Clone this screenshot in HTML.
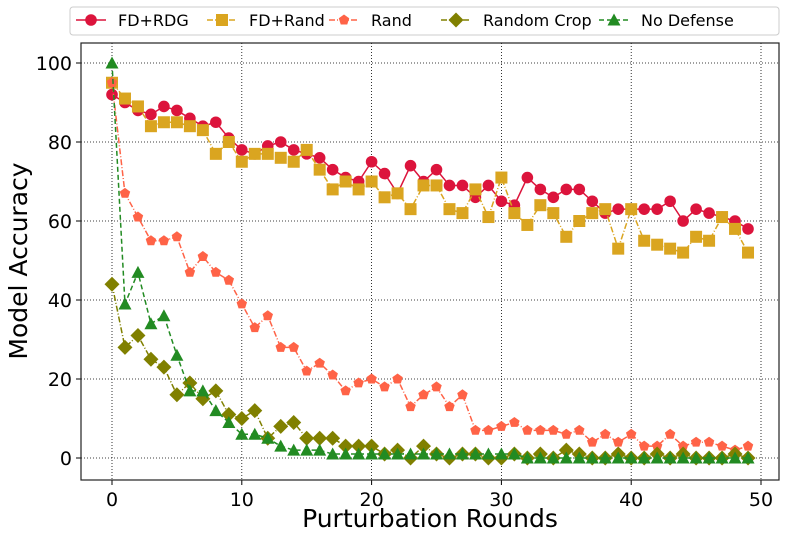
<!DOCTYPE html>
<html><head><meta charset="utf-8"><style>
body{margin:0;background:#fff;font-family:"Liberation Sans","DejaVu Sans",sans-serif}
svg text{font-family:"DejaVu Sans","Liberation Sans",sans-serif}
</style></head><body>
<svg id="chart" width="786" height="539" xmlns="http://www.w3.org/2000/svg">
</svg>
<script>
const rounds = Array.from({length:50},(_, i)=>i);
const fdRdg = [92,90,88,87,89,88,86,84,85,81,78,77,79,80,78,77,76,73,71,70,75,72,67,74,70,73,69,69,66,69,65,64,71,68,66,68,68,65,62,63,63,63,63,65,60,63,62,61,60,58];
const fdRand = [95,91,89,84,85,85,84,83,77,80,75,77,77,76,75,78,73,68,70,68,70,66,67,63,69,69,63,62,68,61,71,62,59,64,62,56,60,62,63,53,63,55,54,53,52,56,55,61,58,52];
const randV = [95,67,61,55,55,56,47,51,47,45,39,33,36,28,28,22,24,21,17,19,20,18,20,13,16,18,13,16,7,7,8,9,7,7,7,6,7,4,6,4,6,3,3,6,3,4,4,3,2,3];
const randomCrop = [44,28,31,25,23,16,19,15,17,11,10,12,5,8,9,5,5,5,3,3,3,1,2,0,3,1,0,1,1,0,0,1,0,1,0,2,1,0,0,1,0,0,1,0,1,0,0,0,1,0];
const noDefense = [100,39,47,34,36,26,17,17,12,9,6,6,5,3,2,2,2,1,1,1,1,1,1,1,1,1,1,1,1,1,1,1,0,0,0,0,0,0,0,0,0,0,0,0,0,0,0,0,0,0];
const xTicks = [0,10,20,30,40,50];
const yTicks = [0,20,40,60,80,100];

const L=81,R=779,T=43,B=480;
const X=v=>112+(v)*12.98;
const Y=v=>458-(v)*3.95;
const svg=document.getElementById('chart');
const NS='http://www.w3.org/2000/svg';
function mk(tag,attrs,parent){const e=document.createElementNS(NS,tag);for(const k in attrs)e.setAttribute(k,attrs[k]);(parent||svg).appendChild(e);return e;}

const grid=mk('g',{});


xTicks.forEach(t=>{const x=X(t);if(x<R){mk('line',{x1:x,x2:x,y1:T,y2:B,stroke:'#000','stroke-width':0.8,'stroke-dasharray':'1,2'},grid);}
  mk('line',{x1:x,x2:x,y1:B,y2:B+5,stroke:'#000'});
  const tx=mk('text',{x:x,y:B+26,'text-anchor':'middle','font-size':19});tx.textContent=t;
  
  
});
yTicks.forEach(t=>{const y=Y(t);mk('line',{x1:L,x2:R,y1:y,y2:y,stroke:'#000','stroke-width':0.8,'stroke-dasharray':'1,2'},grid);
  mk('line',{x1:L-5,x2:L,y1:y,y2:y,stroke:'#000'});
  const tx=mk('text',{x:L-9,y:y+7,'text-anchor':'end','font-size':19});tx.textContent=t;
  
  
});
const frame=mk('rect',{x:L,y:T,width:R-L,height:B-T,fill:'none',stroke:'#222','stroke-width':1.2});



function marker(g,type,x,y,c){
  if(type==='circle')mk('circle',{cx:x,cy:y,r:5.8,fill:c},g);
  else if(type==='square')mk('rect',{x:x-6,y:y-6,width:12,height:12,fill:c},g);
  else if(type==='pent'){let p=[];for(let i=0;i<5;i++){const a=-Math.PI/2+i*2*Math.PI/5;p.push((x+5.5*Math.cos(a))+','+(y+5.5*Math.sin(a)));}mk('polygon',{points:p.join(' '),fill:c},g);}
  else if(type==='diamond')mk('polygon',{points:`${x},${y-7.5} ${x+7.5},${y} ${x},${y+7.5} ${x-7.5},${y}`,fill:c},g);
  else if(type==='tri')mk('polygon',{points:`${x},${y-6.5} ${x+6.5},${y+5.5} ${x-6.5},${y+5.5}`,fill:c},g);
}
const series=[
 {name:'FD+RDG',d:fdRdg,c:'#dc143c',m:'circle',dash:''},
 {name:'FD+Rand',d:fdRand,c:'#daa520',m:'square',dash:'6,2,1,2'},
 {name:'Rand',d:randV,c:'#ff6347',m:'pent',dash:'6,2,1,2'},
 {name:'Random Crop',d:randomCrop,c:'#808000',m:'diamond',dash:'6,2,1,2'},
 {name:'No Defense',d:noDefense,c:'#228b22',m:'tri',dash:'5,3'}
];
series.forEach(s=>{
  const g=mk('g',{});
  
  
  const pts=s.d.map((v,i)=>X(rounds[i])+','+Y(v)).join(' ');
  mk('polyline',{points:pts,fill:'none',stroke:s.c,'stroke-width':1.5,'stroke-dasharray':s.dash},g);
  s.d.forEach((v,i)=>marker(g,s.m,X(rounds[i]),Y(v),s.c));
});

const lg=mk('g',{});


mk('rect',{x:70,y:7,width:709,height:28,fill:'#fff',stroke:'#ccc',rx:3},lg);
const lx=[76,207,329,441,599];
series.forEach((s,i)=>{
  const e=mk('g',{},lg);
  
  
  mk('line',{x1:lx[i],x2:lx[i]+30,y1:20,y2:20,stroke:s.c,'stroke-width':1.5,'stroke-dasharray':s.dash},e);
  marker(e,s.m,lx[i]+15,20,s.c);
  const t=mk('text',{x:lx[i]+42,y:26,'font-size':16},e);t.textContent=s.name;
});

const xt=mk('text',{x:430,y:527,'text-anchor':'middle','font-size':25});xt.textContent='Purturbation Rounds';


const yt=mk('text',{x:0,y:0,'text-anchor':'middle','font-size':25,transform:'translate(27,261) rotate(-90)'});yt.textContent='Model Accuracy';


</script>
</body></html>
